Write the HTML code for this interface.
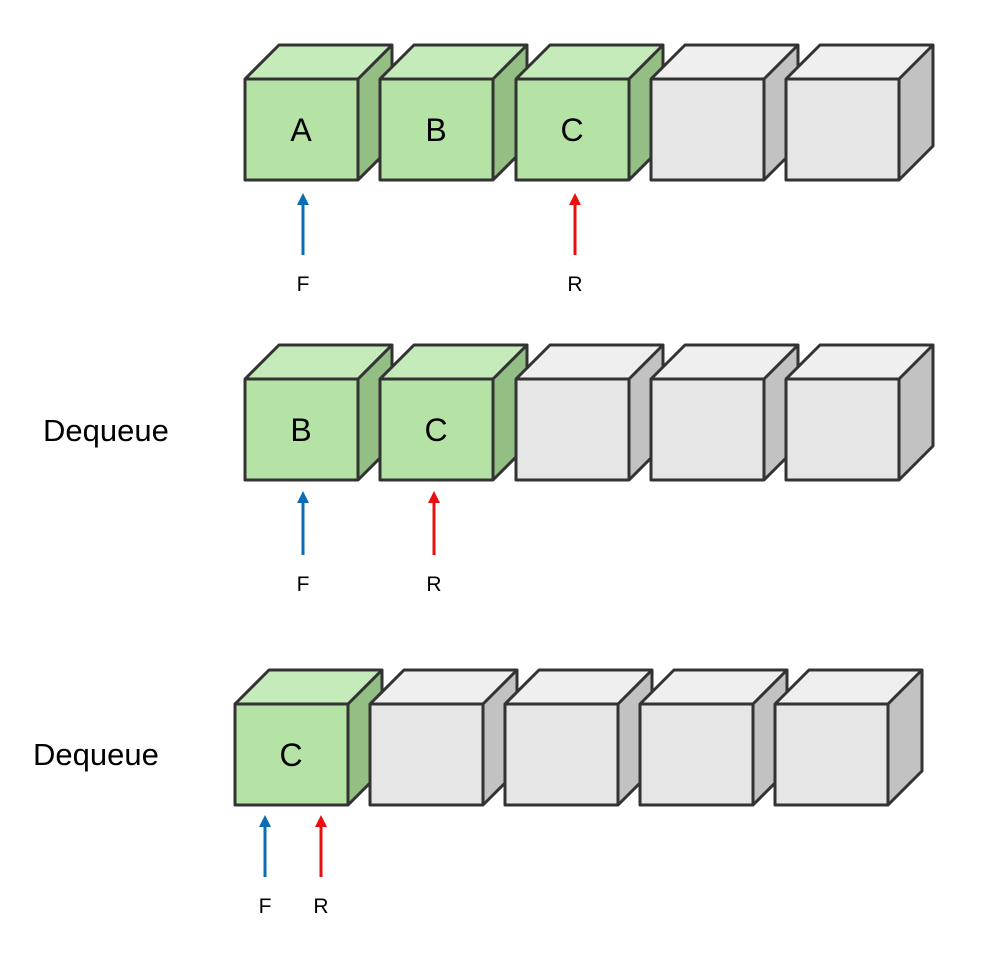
<!DOCTYPE html>
<html><head><meta charset="utf-8"><style>html,body{margin:0;padding:0;background:#fff}svg{display:block}</style></head>
<body>
<svg width="996" height="953" viewBox="0 0 996 953" xmlns="http://www.w3.org/2000/svg" font-family="Liberation Sans, sans-serif">
<defs>
<g id="g">
<polygon points="0,0 34,-34 147,-34 113,0" fill="#c6ebbb"/>
<polygon points="113,0 147,-34 147,67 113,101" fill="#93bf85"/>
<rect x="0" y="0" width="113" height="101" fill="#b5e3a6"/>
<path d="M0,0 L34,-34 L147,-34 L147,67 L113,101 L0,101 Z M0,0 L113,0 L147,-34 M113,0 L113,101" fill="none" stroke="#333" stroke-width="3" stroke-linejoin="round"/>
</g>
<g id="w">
<polygon points="0,0 34,-34 147,-34 113,0" fill="#efefef"/>
<polygon points="113,0 147,-34 147,67 113,101" fill="#c2c2c2"/>
<rect x="0" y="0" width="113" height="101" fill="#e6e6e6"/>
<path d="M0,0 L34,-34 L147,-34 L147,67 L113,101 L0,101 Z M0,0 L113,0 L147,-34 M113,0 L113,101" fill="none" stroke="#333" stroke-width="3" stroke-linejoin="round"/>
</g>
</defs>
<!-- row 1 -->
<use href="#g" x="245" y="79"/><use href="#g" x="380" y="79"/><use href="#g" x="516" y="79"/><use href="#w" x="651" y="79"/><use href="#w" x="786" y="79"/>
<!-- row 2 -->
<use href="#g" x="245" y="379"/><use href="#g" x="380" y="379"/><use href="#w" x="516" y="379"/><use href="#w" x="651" y="379"/><use href="#w" x="786" y="379"/>
<!-- row 3 -->
<use href="#g" x="235" y="704"/><use href="#w" x="370" y="704"/><use href="#w" x="505" y="704"/><use href="#w" x="640" y="704"/><use href="#w" x="775" y="704"/>
<g font-size="32" text-anchor="middle" fill="#000">
<text x="301" y="141">A</text><text x="436" y="141">B</text><text x="572" y="141">C</text>
<text x="301" y="441">B</text><text x="436" y="441">C</text>
<text x="291" y="766">C</text>
</g>
<g font-size="31" fill="#000">
<text x="43" y="441">Dequeue</text>
<text x="33" y="765">Dequeue</text>
</g>
<g stroke-width="3">
<line x1="303" y1="203" x2="303" y2="255" stroke="#0a6cb5"/><polygon points="297,205 303,193 309,205" fill="#0a6cb5"/>
<line x1="575" y1="203" x2="575" y2="255" stroke="#e8100f"/><polygon points="569,205 575,193 581,205" fill="#e8100f"/>
<line x1="303" y1="501" x2="303" y2="555" stroke="#0a6cb5"/><polygon points="297,503 303,491 309,503" fill="#0a6cb5"/>
<line x1="434" y1="501" x2="434" y2="555" stroke="#e8100f"/><polygon points="428,503 434,491 440,503" fill="#e8100f"/>
<line x1="265" y1="825" x2="265" y2="877" stroke="#0a6cb5"/><polygon points="259,827 265,815 271,827" fill="#0a6cb5"/>
<line x1="321" y1="825" x2="321" y2="877" stroke="#e8100f"/><polygon points="315,827 321,815 327,827" fill="#e8100f"/>
</g>
<g font-size="21" text-anchor="middle" fill="#000">
<text x="303" y="291">F</text><text x="575" y="291">R</text>
<text x="303" y="591">F</text><text x="434" y="591">R</text>
<text x="265" y="913">F</text><text x="321" y="913">R</text>
</g>
</svg>
</body></html>
